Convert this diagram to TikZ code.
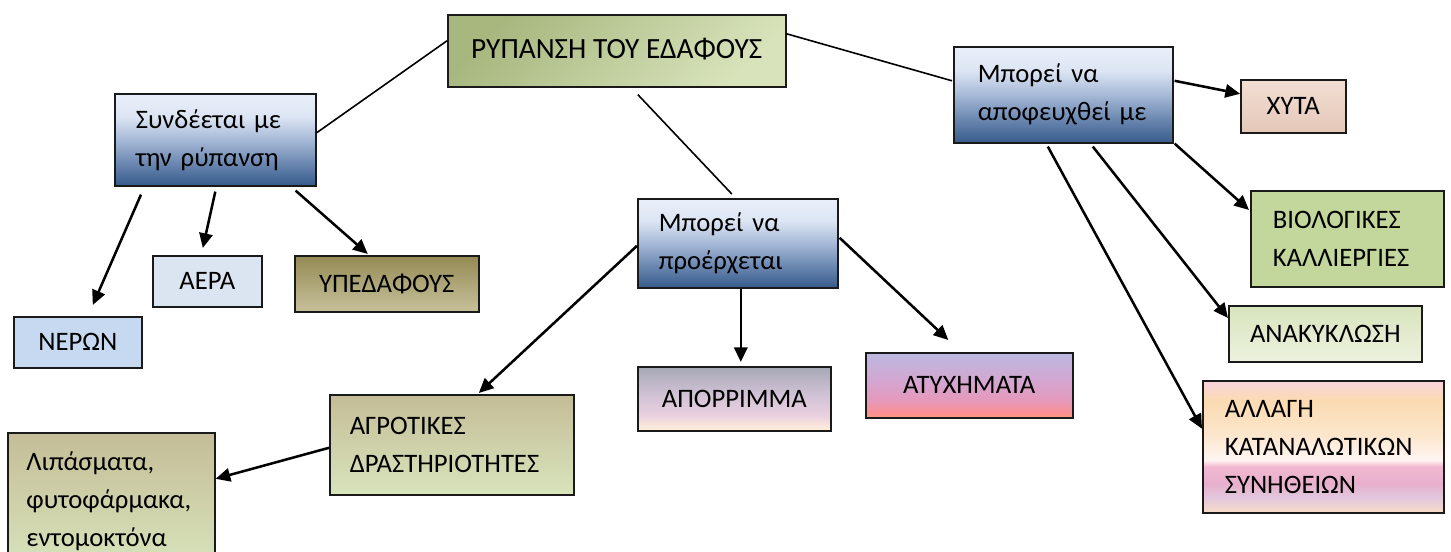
\documentclass[tikz,border=0pt]{standalone}
\usepackage{fontspec}
\setmainfont{Carlito}
\usetikzlibrary{arrows.meta,calc}

% box colours
\definecolor{blT}{HTML}{EAF0FA}
\definecolor{blA}{HTML}{DCE5F3}
\definecolor{blB}{HTML}{A6B9D7}
\definecolor{blC}{HTML}{6C88B1}
\definecolor{blD}{HTML}{365B8B}
\definecolor{apA}{HTML}{A6A8B6}
\definecolor{apB}{HTML}{D2C3D6}
\definecolor{apC}{HTML}{EBD1DF}
\definecolor{apD}{HTML}{F8E4DC}
\definecolor{apE}{HTML}{FDEFD8}
\definecolor{atA}{HTML}{BBB9E0}
\definecolor{atB}{HTML}{D5A5D0}
\definecolor{atC}{HTML}{E698B9}
\definecolor{atD}{HTML}{FB8F93}
\definecolor{atE}{HTML}{FF9A80}
\definecolor{suA}{HTML}{F9D3DD}
\definecolor{suB}{HTML}{FADBB2}
\definecolor{suC}{HTML}{FCE6CB}
\definecolor{suD}{HTML}{FFF5F3}
\definecolor{suE}{HTML}{F2B8D1}
\definecolor{suF}{HTML}{E8B0CC}
\definecolor{suG}{HTML}{E2C6DD}
\definecolor{suH}{HTML}{F8DCC7}
\definecolor{ttlA}{HTML}{A7B77E}
\definecolor{ttlB}{HTML}{D8E3BB}
\definecolor{waterblue}{HTML}{C6D9F1}
\definecolor{airblue}{HTML}{DBE5F1}
\definecolor{subA}{HTML}{948A54}
\definecolor{subB}{HTML}{C7C19B}
\definecolor{agrA}{HTML}{C4BD97}
\definecolor{agrB}{HTML}{D8E4BC}
\definecolor{xytA}{HTML}{F2DED4}
\definecolor{xytB}{HTML}{E4C8B8}
\definecolor{bioG}{HTML}{C3D69B}
\definecolor{recA}{HTML}{D8E4BD}
\definecolor{recB}{HTML}{ECF2DF}
\definecolor{edge}{HTML}{1A1A1A}

% vertical shadings, listed bottom (25bp) to top (75bp)
\pgfdeclareverticalshading{bluebox}{100bp}{color(0bp)=(blD); color(25bp)=(blD);
  color(37.5bp)=(blC); color(50bp)=(blB); color(62.5bp)=(blA); color(75bp)=(blT); color(100bp)=(blT)}
\pgfdeclareverticalshading{dusk}{100bp}{color(0bp)=(apE); color(25bp)=(apE);
  color(30bp)=(apD); color(36bp)=(apC); color(52.5bp)=(apB); color(75bp)=(apA); color(100bp)=(apA)}
\pgfdeclareverticalshading{flare}{100bp}{color(0bp)=(atE); color(25bp)=(atE);
  color(29bp)=(atD); color(37.5bp)=(atC); color(52.5bp)=(atB); color(75bp)=(atA); color(100bp)=(atA)}
\pgfdeclareverticalshading{sunset}{100bp}{color(0bp)=(suH); color(25bp)=(suH);
  color(31bp)=(suG); color(36bp)=(suF); color(42.5bp)=(suE); color(45bp)=(suD);
  color(55bp)=(suC); color(67.5bp)=(suB); color(75bp)=(suA); color(100bp)=(suA)}

\tikzset{
  every node/.style={font=\fontsize{20}{28.5}\selectfont, text=black},
  bx/.style 2 args={draw=edge, line width=1.2pt, anchor=north west, inner sep=0pt,
    minimum width=#1, minimum height=#2, align=center},
  lb/.style n args={3}{draw=edge, line width=1.2pt, anchor=north west, inner ysep=0pt,
    inner xsep=#3, text width=#1, minimum height=#2, align=left},
  bluefill/.style={shading=bluebox},
  plain/.style={line width=1.2pt},
  arr/.style={line width=1.9pt, -{Triangle[length=11pt,width=10pt]}},
}

\begin{document}
\begin{tikzpicture}[x=0.75pt, y=-0.75pt]
\useasboundingbox (0,0) rectangle (1451,552);
\clip (0,0) rectangle (1451,552);

% central topic
\node[bx={253.5pt}{54pt}, top color=ttlA, bottom color=ttlB, shading angle=45,
  font=\fontsize{22}{28.5}\selectfont]
  (title) at (447,14) {\raisebox{3pt}{ΡΥΠΑΝΣΗ ΤΟΥ ΕΔΑΦΟΥΣ}};

% left branch
\node[lb={119.25pt}{69pt}{15.75pt}, bluefill] (synd) at (114,93) {Συνδέεται με\\την ρύπανση};
\node[bx={96pt}{38.25pt}, fill=waterblue] (neron) at (13,316) {ΝΕΡΩΝ};
\node[bx={81.75pt}{38.25pt}, fill=airblue] (aera) at (152,255) {ΑΕΡΑ};
\node[bx={138pt}{42pt}, top color=subA, bottom color=subB] (yped) at (294,255) {ΥΠΕΔΑΦΟΥΣ};

% middle branch
\node[lb={118.5pt}{66.75pt}{15.75pt}, bluefill] (proer) at (637,198) {Μπορεί να\\προέρχεται};
\node[lb={153pt}{75pt}{15pt}, top color=agrA, bottom color=agrB] (agrot) at (329,394)
  {ΑΓΡΟΤΙΚΕΣ\\ΔΡΑΣΤΗΡΙΟΤΗΤΕΣ};
\node[lb={127.25pt}{102pt}{14pt}, top color=agrA, bottom color=agrB] (lipasm) at (7,432)
  {Λιπάσματα,\\φυτοφάρμακα,\\εντομοκτόνα};
\node[bx={144.75pt}{48pt}, shading=dusk] (aporr) at (637,366) {ΑΠΟΡΡΙΜΜΑ};
\node[bx={155.25pt}{48.75pt}, shading=flare] (atyx) at (865,352) {ΑΤΥΧΗΜΑΤΑ};

% right branch
\node[lb={128.25pt}{72pt}{18pt}, bluefill] (apof) at (953,46) {Μπορεί να\\αποφευχθεί με};
\node[bx={78.75pt}{39.75pt}, top color=xytA, bottom color=xytB] (xyta) at (1240,79) {ΧΥΤΑ};
\node[lb={111.75pt}{72pt}{16.5pt}, fill=bioG] (biol) at (1250,190) {ΒΙΟΛΟΓΙΚΕΣ\\ΚΑΛΛΙΕΡΓΙΕΣ};
\node[bx={144.75pt}{42pt}, top color=recA, bottom color=recB] (anak) at (1228,305) {ΑΝΑΚΥΚΛΩΣΗ};
\node[lb={147.75pt}{99pt}{16.5pt}, shading=sunset] (allag) at (1202,380)
  {ΑΛΛΑΓΗ\\ΚΑΤΑΝΑΛΩΤΙΚΩΝ\\ΣΥΝΗΘΕΙΩΝ};

% links from the central topic
\draw[plain] ($(title.west)+(0,-10)$) -- ($(synd.east)+(0,-7)$);
\draw[plain] ($(title.south)+(21,7)$) -- ($(proer.north)+(-6,-4)$);
\draw[plain] ($(title.east)+(0,-17)$) -- ($(apof.west)+(-1,-14)$);

% left branch arrows
\draw[arr] ($(synd.south west)+(27,8)$) -- ($(neron.north)+(15,-11)$);
\draw[arr] ($(synd.south)+(0,5)$) -- ($(aera.north)+(-4.5,-7)$);
\draw[arr] ($(synd.south east)+(-21,4)$) -- ($(yped.north)+(-19,-1)$);

% middle branch arrows
\draw[arr] ($(proer.west)+(0,2.5)$) -- ($(agrot.north)+(27,-1)$);
\draw[arr] ($(proer.south)+(3,0)$) -- ($(aporr.north)+(6.5,-4)$);
\draw[arr] ($(proer.east)+(1,-5.5)$) -- ($(atyx.north)+(-21,-12)$);
\draw[arr] ($(agrot.west)+(0,3)$) -- ($(lipasm.east)+(0,-22)$);

% right branch arrows
\draw[arr] ($(apof.east)+(1,-14)$) -- ($(xyta.west)+(0,-12.5)$);
\draw[arr] ($(apof.south east)+(1,0)$) -- ($(biol.north west)+(-1,20)$);
\draw[arr] ($(apof.south)+(29.5,3)$) -- ($(anak.north west)+(0,13)$);
\draw[arr] ($(apof.south)+(-15.5,3)$) -- ($(allag.west)+(0,-18)$);
\end{tikzpicture}
\end{document}
